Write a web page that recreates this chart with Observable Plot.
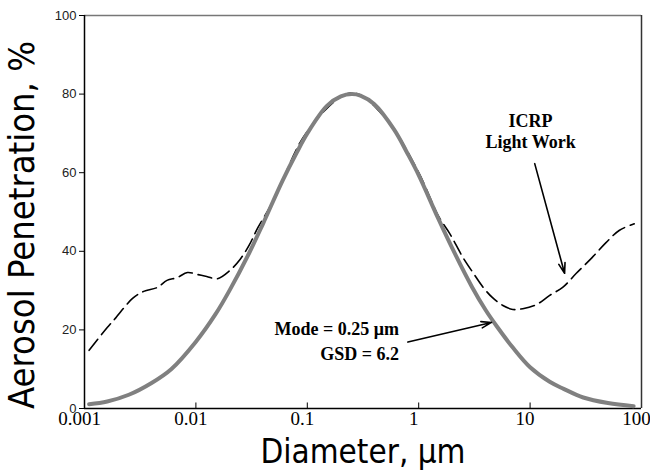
<!DOCTYPE html>
<html><head><meta charset="utf-8">
<script src="https://cdn.jsdelivr.net/npm/d3@7"></script>
<script src="https://cdn.jsdelivr.net/npm/@observablehq/plot@0.6"></script>
<style>body{margin:0;background:#fff}</style>
</head><body><div id="chart"></div>
<script>
// Fitted lognormal curve (Mode = 0.25 µm, GSD = 6.2)
const solidDiam = [0.0011, 0.0016, 0.0025, 0.004, 0.006, 0.01, 0.015, 0.02, 0.03, 0.04, 0.06, 0.08, 0.1, 0.15, 0.2, 0.25, 0.3, 0.4, 0.6, 0.8, 1, 1.5, 2, 3, 4, 5, 7, 10, 15, 20, 30, 50, 85];
const solidPen  = [1.1, 1.8, 3.5, 6.5, 10, 17, 24, 30, 39.5, 47, 58, 65, 70, 77, 79.4, 80, 79.6, 77.4, 71, 64.7, 59.4, 48.3, 40.8, 31, 25, 21, 15.5, 10.5, 6.8, 5, 2.8, 1.4, 0.6];
// ICRP Light Work curve (dashed)
const icrpDiam = [0.0011, 0.0016, 0.0019, 0.0027, 0.0034, 0.0045, 0.0055, 0.0068, 0.0084, 0.0103, 0.0125, 0.0156, 0.02, 0.025, 0.03, 0.036, 0.05, 0.1, 0.25, 0.5, 1, 1.5, 1.9, 2.5, 3.1, 3.8, 4.6, 5.7, 7, 8.6, 11.5, 15, 19.6, 26, 36, 48, 63, 86];
const icrpPen  = [14.8, 20.6, 23, 28, 29.8, 30.8, 32.6, 33.3, 34.6, 34.1, 33.6, 33, 35, 38, 41.5, 46, 53, 70.5, 80.3, 74, 60, 49, 44.5, 38.4, 34.4, 30.8, 28.2, 26.2, 25.2, 25.4, 26.5, 28.8, 30.8, 34.4, 38.4, 42.2, 45.3, 47];

const xTicks = [0.001, 0.01, 0.1, 1, 10, 100];
const xTickLabels = ["0.001", "0.01", "0.1", "1", "10", "100"];
const yTicks = [0, 20, 40, 60, 80, 100];

const xTitle = "Diameter, μm";
const yTitle = "Aerosol Penetration, %";

const noteLines = ["Mode = 0.25 μm", "GSD = 6.2"];
const noteX = [0.665, 0.665];
const noteY = [18.6, 12.4];
const icrpLines = ["ICRP", "Light Work"];
const icrpX = [10.1, 10.1];
const icrpY = [71.6, 66.3];

const arrowX1 = [0.8, 11];
const arrowY1 = [16.9, 62.3];
const arrowX2 = [4.5, 20.4];
const arrowY2 = [21.9, 34.4];

const solid = solidDiam.map((d, i) => ({d, p: solidPen[i]}));
const icrp = icrpDiam.map((d, i) => ({d, p: icrpPen[i]}));
const notes = noteLines.map((t, i) => ({t, x: noteX[i], y: noteY[i]}));
const icrpNotes = icrpLines.map((t, i) => ({t, x: icrpX[i], y: icrpY[i]}));
const arrows = arrowX1.map((x1, i) => ({x1, y1: arrowY1[i], x2: arrowX2[i], y2: arrowY2[i]}));

const serif = "'Liberation Serif', 'Times New Roman', serif";
const sans = "'Liberation Sans', Arial, sans-serif";
const titleFont = "'DejaVu Sans', Verdana, sans-serif";

const chart = Plot.plot({
  width: 650, height: 471,
  marginLeft: 84, marginRight: 9, marginTop: 15, marginBottom: 63,
  style: {background: "#fff", fontFamily: sans, overflow: "visible"},
  x: {type: "log", domain: [0.001, 100]},
  y: {domain: [0, 100]},
  marks: [
    Plot.axisY({ticks: yTicks, tickFormat: d => String(d), tickSize: 5, tickPadding: 3, fontSize: 13, fill: "#222", stroke: "#000", label: null}),
    Plot.axisX({ticks: xTicks, tickFormat: d => xTickLabels[xTicks.indexOf(d)], tickSize: 0, tickPadding: 3, fontSize: 19, fontFamily: serif, fill: "#000", dx: -5, label: null}),
    Plot.ruleX(xTicks.slice(1, -1), {y1: 0, y2: 1.4, stroke: "#000"}),
    Plot.ruleY([100], {stroke: "#777", strokeWidth: 1.5}),
    Plot.ruleX([100], {stroke: "#333", strokeWidth: 1.5}),
    Plot.ruleY([0], {stroke: "#000", strokeWidth: 1.5}),
    Plot.ruleX([0.001], {stroke: "#000", strokeWidth: 1.5}),
    Plot.line(icrp, {x: "d", y: "p", stroke: "#000", strokeWidth: 1.6, strokeDasharray: "14,6", curve: "catmull-rom"}),
    Plot.line(solid, {x: "d", y: "p", stroke: "#808080", strokeWidth: 4, curve: "catmull-rom"}),
    Plot.arrow(arrows, {x1: "x1", y1: "y1", x2: "x2", y2: "y2", stroke: "#000", strokeWidth: 1.6, headLength: 10, headAngle: 35}),
    Plot.text(notes, {x: "x", y: "y", text: "t", textAnchor: "end", lineAnchor: "bottom", fontSize: 18, fontWeight: "bold", fontFamily: serif, fill: "#000"}),
    Plot.text(icrpNotes, {x: "x", y: "y", text: "t", textAnchor: "middle", lineAnchor: "bottom", fontSize: 18, fontWeight: "bold", fontFamily: serif, fill: "#000"}),
    Plot.text([xTitle], {text: d => d, frameAnchor: "bottom", dy: 44, textAnchor: "middle", lineAnchor: "middle", fontSize: 34, fontFamily: titleFont, fill: "#000", className: "xtitle"}),
    Plot.text([yTitle], {text: d => d, frameAnchor: "left", dx: -62, dy: 13, rotate: -90, textAnchor: "middle", lineAnchor: "middle", fontSize: 36, fontFamily: titleFont, fill: "#000", className: "ytitle"})
  ]
});
d3.select(chart).selectAll(".xtitle text").attr("textLength", 205).attr("lengthAdjust", "spacingAndGlyphs");
d3.select(chart).selectAll(".ytitle text").attr("textLength", 368).attr("lengthAdjust", "spacingAndGlyphs");
document.getElementById("chart").appendChild(chart);
</script>
</body></html>
